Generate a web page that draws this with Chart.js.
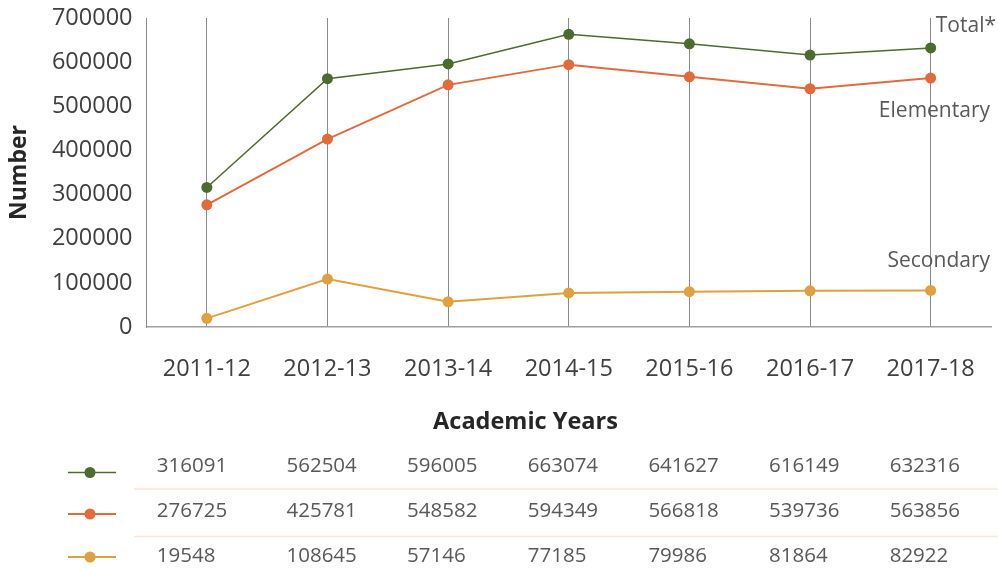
<!DOCTYPE html>
<html>
<head>
<meta charset="utf-8">
<script src="https://cdn.jsdelivr.net/npm/chart.js@4/dist/chart.umd.min.js"></script>
<style>
html,body{margin:0;padding:0;background:#fff;}
#wrap{width:998px;height:568px;}
</style>
</head>
<body>
<div id="wrap"><canvas id="c" width="998" height="568"></canvas></div>
<script>
const categories = ["2011-12","2012-13","2013-14","2014-15","2015-16","2016-17","2017-18"];
const totalValues = [316091, 562504, 596005, 663074, 641627, 616149, 632316];
const elementaryValues = [276725, 425781, 548582, 594349, 566818, 539736, 563856];
const secondaryValues = [19548, 108645, 57146, 77185, 79986, 81864, 82922];
const seriesNames = ["Total*", "Elementary", "Secondary"];
const yTicks = [0, 100000, 200000, 300000, 400000, 500000, 600000, 700000];
const xTitle = "Academic Years";

const colors = ["#4d6b2f", "#e06b3e", "#e0a042"];
const FONT = "'Open Sans', 'Noto Sans', sans-serif";

const tablePlugin = {
  id: 'tablePlugin',
  afterDraw(chart) {
    const ctx = chart.ctx;
    const xs = chart.scales.x;
    const ys = chart.scales.y;
    const rows = [totalValues, elementaryValues, secondaryValues];
    const textY = [466, 511.5, 556];
    const markY = [472.5, 514, 557];
    ctx.save();
    // x axis title
    ctx.fillStyle = '#262626';
    ctx.font = "bold 23.5px " + FONT;
    ctx.textAlign = 'center';
    ctx.textBaseline = 'middle';
    ctx.fillText(xTitle, 525.5, 422);
    // separators
    ctx.strokeStyle = '#fde4d4';
    ctx.lineWidth = 1.5;
    [489, 536.5].forEach(y => {
      ctx.beginPath(); ctx.moveTo(134, y); ctx.lineTo(998, y); ctx.stroke();
    });
    rows.forEach((vals, r) => {
      ctx.strokeStyle = colors[r];
      ctx.lineWidth = r === 0 ? 1.5 : 2;
      ctx.beginPath(); ctx.moveTo(68, markY[r]); ctx.lineTo(116, markY[r]); ctx.stroke();
      ctx.fillStyle = colors[r];
      ctx.beginPath(); ctx.arc(90, markY[r], 5.5, 0, Math.PI * 2); ctx.fill();
      ctx.fillStyle = '#595959';
      ctx.font = "20.5px " + FONT;
      ctx.textAlign = 'left';
      ctx.textBaseline = 'middle';
      vals.forEach((v, i) => {
        const cx = xs.getPixelForValue(i);
        const off = i === 0 ? 50 : 41;
        ctx.fillText(String(v), cx - off, textY[r]);
      });
    });
    // series labels near the right
    ctx.fillStyle = '#595959';
    ctx.font = "21px " + FONT;
    ctx.textBaseline = 'middle';
    ctx.textAlign = 'right';
    ctx.fillText(seriesNames[0], 996, ys.getPixelForValue(totalValues[6]) - 22);
    ctx.fillText(seriesNames[1], 990, ys.getPixelForValue(elementaryValues[6]) + 33);
    ctx.fillText(seriesNames[2], 990, ys.getPixelForValue(secondaryValues[6]) - 29);
    ctx.restore();
  }
};

const mk = (label, data, color, width) => ({
  label, data,
  borderColor: color, backgroundColor: color,
  borderWidth: width,
  pointRadius: 5.5, pointHoverRadius: 5.5,
  pointBorderWidth: 0,
  pointBackgroundColor: color,
  tension: 0
});

new Chart(document.getElementById('c'), {
  type: 'line',
  data: {
    labels: categories,
    datasets: [
      mk(seriesNames[0], totalValues, colors[0], 1.5),
      mk(seriesNames[1], elementaryValues, colors[1], 2),
      mk(seriesNames[2], secondaryValues, colors[2], 2)
    ]
  },
  options: {
    responsive: false,
    animation: false,
    devicePixelRatio: 1,
    layout: { padding: { top: 18, right: 7, bottom: 133, left: 0 } },
    plugins: { legend: { display: false }, tooltip: { enabled: false } },
    scales: {
      x: {
        offset: true,
        grid: { display: true, offset: false, drawTicks: false, color: '#8a8a8a', lineWidth: 1 },
        border: { display: true, color: '#a0a0a0', width: 1.5 },
        ticks: { color: '#404040', font: { family: FONT, size: 23.5 }, padding: 28, maxRotation: 0 },
        title: { display: false },
        afterFit(s) { s.height = 108; s.paddingLeft = 0; s.paddingRight = 0; s.paddingTop = 0; s.paddingBottom = 0; }
      },
      y: {
        min: 0, max: 700000,
        afterBuildTicks(s) { s.ticks = yTicks.map(v => ({ value: v })); },
        grid: { display: false, drawTicks: false },
        border: { display: true, color: '#8a8a8a', width: 1 },
        ticks: { color: '#404040', font: { family: FONT, size: 23.5 }, padding: 14, callback: v => String(v) },
        title: { display: true, text: 'Number', color: '#262626', font: { family: FONT, size: 23, weight: 'bold' }, padding: { top: 6, bottom: 0 } },
        afterFit(s) { s.width = 146.5; s.paddingLeft = 0; s.paddingRight = 0; s.paddingTop = 0; s.paddingBottom = 0; }
      }
    }
  },
  plugins: [tablePlugin]
});
</script>
</body>
</html>
